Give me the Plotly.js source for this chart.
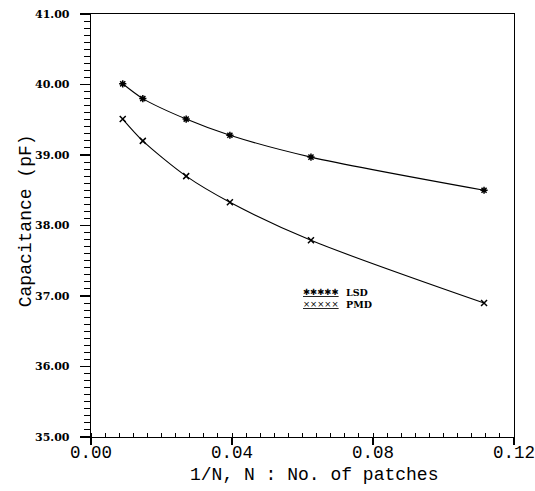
<!DOCTYPE html>
<html>
<head>
<meta charset="utf-8">
<script src="https://cdn.plot.ly/plotly-3.0.1.min.js"></script>
<style>html,body{margin:0;padding:0;background:#fff;}</style>
</head>
<body>
<div id="chart" style="width:535px;height:491px;"></div>
<script>
// 1/N values (N = number of patches)
const invN = [0.0090, 0.0147, 0.0270, 0.0394, 0.0624, 0.1115];
// Capacitance (pF)
const lsd = [40.01, 39.80, 39.51, 39.28, 38.97, 38.50];
const pmd = [39.51, 39.20, 38.70, 38.33, 37.79, 36.90];
const seriesNames = ['LSD', 'PMD'];
const legendGlyphs = ['✱✱✱✱✱', '×××××'];
const xTickVals = [0.00, 0.04, 0.08, 0.12];
const yTickVals = [35, 36, 37, 38, 39, 40, 41];
const xTitle = '1/N, N : No. of patches';
const yTitle = 'Capacitance (pF)';

const mono = 'Liberation Mono, DejaVu Sans Mono, monospace';
const serifB = 'DejaVu Serif, serif';

const traces = [
  {x: invN, y: lsd, name: seriesNames[0], type: 'scatter', mode: 'lines+markers',
   line: {color: '#000', width: 1.1, shape: 'spline', smoothing: 0.8},
   marker: {symbol: 'asterisk-open', size: 6, color: '#000', line: {color: '#000', width: 1.5}}},
  {x: invN, y: pmd, name: seriesNames[1], type: 'scatter', mode: 'lines+markers',
   line: {color: '#000', width: 1.1, shape: 'spline', smoothing: 0.8},
   marker: {symbol: 'x-thin-open', size: 6, color: '#000', line: {color: '#000', width: 1.5}}}
];

const rowY = [0.342, 0.3136];
const legendAnn = [];
seriesNames.forEach((n, i) => {
  legendAnn.push({text: '<u>' + legendGlyphs[i] + '</u>', xref: 'paper', yref: 'paper',
    x: 0.4965, y: rowY[i], xanchor: 'left', yanchor: 'middle', showarrow: false,
    font: {family: 'DejaVu Sans, sans-serif', size: 8.5, color: '#000'}});
  legendAnn.push({text: '<b>' + n + '</b>', xref: 'paper', yref: 'paper',
    x: 0.598, y: rowY[i], xanchor: 'left', yanchor: 'middle', showarrow: false,
    font: {family: serifB, size: 9.5, color: '#000'}});
});

const layout = {
  width: 535, height: 491,
  margin: {l: 91, r: 21, t: 14, b: 54},
  paper_bgcolor: '#fff', plot_bgcolor: '#fff',
  showlegend: false,
  xaxis: {
    range: [0, 0.12], tickvals: xTickVals, tickformat: '.2f',
    ticks: 'outside', ticklen: 7, tickwidth: 1.2, tickcolor: '#000',
    minor: {dtick: 0.004, ticks: 'inside', ticklen: 4, tickwidth: 1, tickcolor: '#000', showgrid: false},
    showline: true, linecolor: '#000', linewidth: 1.3, mirror: true,
    showgrid: false, zeroline: false, ticklabeloverflow: 'allow',
    ticklabelstandoff: -8,
    tickfont: {family: mono, size: 17.5, color: '#000'}
  },
  yaxis: {
    range: [35, 41], tickvals: yTickVals, tickformat: '.2f',
    ticks: 'outside', ticklen: 10, tickwidth: 1.2, tickcolor: '#000',
    minor: {dtick: 0.1, ticks: 'outside', ticklen: 6, tickwidth: 1, tickcolor: '#000', showgrid: false},
    showline: true, linecolor: '#000', linewidth: 1.3, mirror: true,
    showgrid: false, zeroline: false, ticklabelstandoff: 8,
    tickfont: {family: serifB, size: 11, color: '#000', weight: 700}
  },
  annotations: [
    {text: xTitle, xref: 'paper', yref: 'paper', x: 0.527, y: -0.091,
     xanchor: 'center', yanchor: 'middle', showarrow: false,
     font: {family: mono, size: 18, color: '#000'}},
    {text: yTitle, xref: 'paper', yref: 'paper', x: (26 - 91) / 423, y: 0.51,
     xanchor: 'center', yanchor: 'middle', showarrow: false, textangle: -90,
     font: {family: mono, size: 18, color: '#000'}}
  ].concat(legendAnn)
};

Plotly.newPlot('chart', traces, layout, {staticPlot: true, displayModeBar: false});
</script>
</body>
</html>
